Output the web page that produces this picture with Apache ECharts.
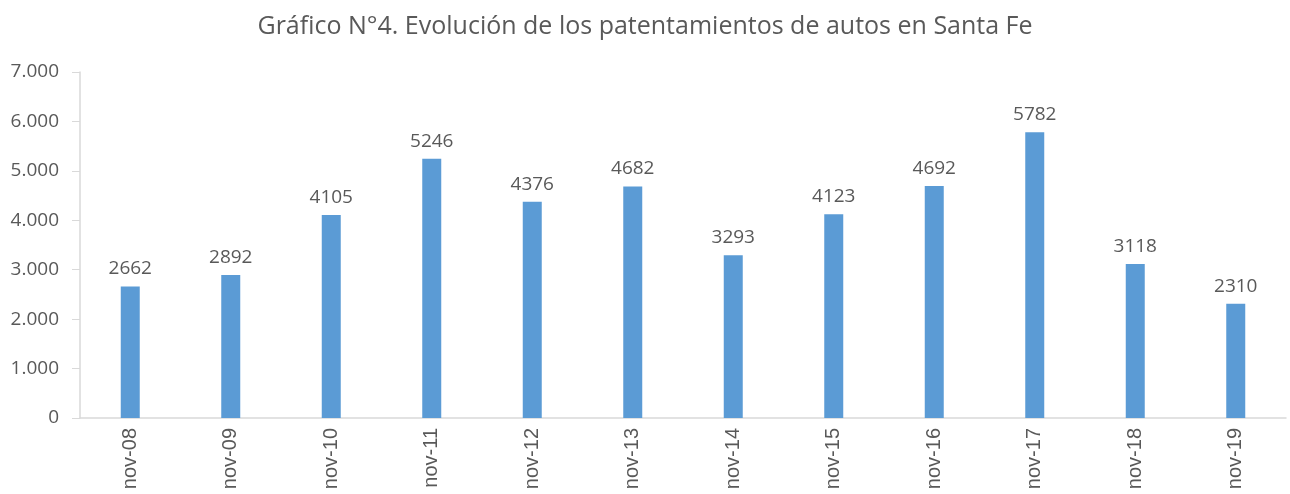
<!DOCTYPE html>
<html>
<head>
<meta charset="utf-8">
<script src="https://cdn.jsdelivr.net/npm/echarts@6/dist/echarts.min.js"></script>
<style>
  html, body { margin: 0; padding: 0; background: #fff; }
  #chart { width: 1290px; height: 494px; }
</style>
</head>
<body>
<div id="chart"></div>
<script>
  // categorias (noviembre de cada año)
  var meses = ['nov-08','nov-09','nov-10','nov-11','nov-12','nov-13','nov-14','nov-15','nov-16','nov-17','nov-18','nov-19']
  // patentamientos
  var patentamientos = [2662, 2892, 4105, 5246, 4376, 4682, 3293, 4123, 4692, 5782, 3118, 2310]

  var gris = '#595959'
  var fuente = '"Open Sans", sans-serif'

  var chart = echarts.init(document.getElementById('chart'))
  var option = {
    animation: false,
    title: {
      text: 'Gráfico N°4. Evolución de los patentamientos de autos en Santa Fe',
      left: 'center',
      top: 9,
      textStyle: { color: gris, fontSize: 25, fontWeight: 'normal', fontFamily: fuente }
    },
    grid: { left: 80, right: 4, top: 72, bottom: 76 },
    xAxis: {
      type: 'category',
      data: meses,
      axisLine: { lineStyle: { color: '#d9d9d9', width: 1.5 } },
      axisTick: { show: false },
      axisLabel: { rotate: 90, color: gris, fontSize: 20, fontFamily: 'Liberation Sans, Arial, sans-serif', margin: 10 }
    },
    yAxis: {
      type: 'value',
      min: 0,
      max: 7000,
      interval: 1000,
      splitLine: { show: false },
      axisLine: { show: true, lineStyle: { color: '#d9d9d9', width: 1.5 } },
      axisTick: { show: true, length: 8, lineStyle: { color: '#d9d9d9' } },
      axisLabel: {
        color: gris, fontSize: 19, fontFamily: fuente, margin: 21,
        formatter: function (v) { return v.toLocaleString('de-DE') }
      }
    },
    series: [{
      type: 'bar',
      data: patentamientos,
      barWidth: 19,
      itemStyle: { color: '#5B9BD5' },
      label: { show: true, position: 'top', distance: 8, color: gris, fontSize: 19, fontFamily: fuente }
    }]
  }
  chart.setOption(option)
</script>
</body>
</html>
